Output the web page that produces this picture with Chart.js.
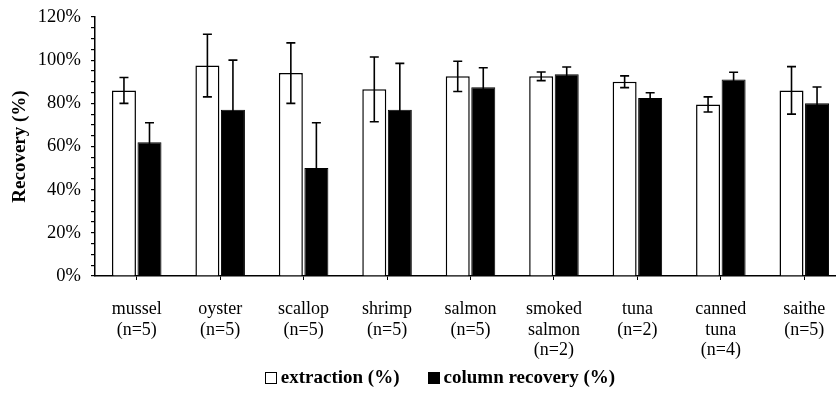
<!DOCTYPE html>
<html>
<head>
<meta charset="utf-8">
<script src="https://cdn.jsdelivr.net/npm/chart.js@4/dist/chart.umd.min.js"></script>
<style>
  html, body { margin: 0; padding: 0; background: #fff; overflow: hidden; }
  #wrap { width: 846px; height: 397px; }
</style>
</head>
<body>
<div id="wrap"><canvas id="c" width="846" height="397"></canvas></div>
<script>
// Sample types (multi-line axis labels)
const categories = [
  ['mussel', '(n=5)'],
  ['oyster', '(n=5)'],
  ['scallop', '(n=5)'],
  ['shrimp', '(n=5)'],
  ['salmon', '(n=5)'],
  ['smoked', 'salmon', '(n=2)'],
  ['tuna', '(n=2)'],
  ['canned', 'tuna', '(n=4)'],
  ['saithe', '(n=5)']
];

// Mean recovery (%) and standard deviation for each step
const extraction    = [86, 97.5, 94, 86.5, 92.5, 92.5, 90, 79.5, 86];
const extractionSd  = [6, 14.5, 14, 15, 7, 2, 2.7, 3.5, 11];
const column        = [62, 77, 50, 77, 87.5, 93.5, 82.5, 91, 80];
const columnSd      = [9, 23, 21, 21.5, 9, 3.3, 2.4, 3.4, 7.6];

const yMin = 0, yMax = 120, yStep = 5, yLabelEvery = 20;

const serif = 'Liberation Serif, "Times New Roman", serif';

// Vertical whiskers with caps: mean ± SD
const errorBars = {
  id: 'errorBars',
  afterDatasetsDraw(chart, args, opts) {
    const ctx = chart.ctx;
    const y = chart.scales.y;
    chart.data.datasets.forEach((ds, i) => {
      const meta = chart.getDatasetMeta(i);
      if (meta.hidden) return;
      meta.data.forEach((bar, j) => {
        const v = ds.data[j], e = ds.sd[j];
        const top = y.getPixelForValue(v + e);
        const bot = y.getPixelForValue(v - e);
        const half = opts.capHalfWidth;
        ctx.save();
        ctx.strokeStyle = '#000';
        ctx.lineWidth = opts.lineWidth;
        ctx.beginPath();
        ctx.moveTo(bar.x, top); ctx.lineTo(bar.x, bot);
        ctx.moveTo(bar.x - half, top); ctx.lineTo(bar.x + half, top);
        ctx.moveTo(bar.x - half, bot); ctx.lineTo(bar.x + half, bot);
        ctx.stroke();
        ctx.restore();
      });
    });
  }
};

// Compact legend row: square swatch hugging its bold label
const swatchLegend = {
  id: 'swatchLegend',
  afterDraw(chart, args, opts) {
    const ctx = chart.ctx;
    ctx.save();
    ctx.font = `bold ${opts.size}px ${serif}`;
    ctx.textBaseline = 'middle';
    ctx.textAlign = 'left';
    const items = chart.data.datasets.map(ds => ({
      text: ds.label,
      fill: ds.backgroundColor,
      stroke: ds.borderColor,
      w: ctx.measureText(ds.label).width
    }));
    const total = items.reduce((s, it) => s + opts.box + opts.gap + it.w, 0)
                + opts.spacing * (items.length - 1);
    let x = opts.centerX - total / 2;
    const y = opts.y;
    items.forEach(it => {
      const bx = Math.round(x) + 0.5, by = Math.round(y - opts.box / 2 - 1) + 0.5;
      ctx.fillStyle = it.fill;
      ctx.fillRect(bx, by, opts.box, opts.box);
      ctx.strokeStyle = it.stroke;
      ctx.lineWidth = 1;
      ctx.strokeRect(bx, by, opts.box, opts.box);
      ctx.fillStyle = '#000';
      ctx.fillText(it.text, x + opts.box + opts.gap, y);
      x += opts.box + opts.gap + it.w + opts.spacing;
    });
    ctx.restore();
  }
};

new Chart(document.getElementById('c'), {
  type: 'bar',
  data: {
    labels: categories,
    datasets: [
      {
        label: 'extraction (%)',
        data: extraction,
        sd: extractionSd,
        backgroundColor: '#ffffff',
        borderColor: '#000000',
        borderWidth: 1.5,
        borderSkipped: 'bottom'
      },
      {
        label: 'column recovery (%)',
        data: column,
        sd: columnSd,
        backgroundColor: '#000000',
        borderColor: '#000000',
        borderWidth: 1,
        borderSkipped: 'bottom'
      }
    ]
  },
  options: {
    responsive: false,
    animation: false,
    devicePixelRatio: 1,
    layout: { padding: { top: 17, left: 0, right: 0, bottom: 35 } },
    datasets: {
      bar: { categoryPercentage: 0.612, barPercentage: 0.94 }
    },
    scales: {
      x: {
        afterFit(scale) {
          scale.height = 86;
          scale.paddingLeft = 0;
          scale.paddingRight = 0;
        },
        grid: {
          offset: false,
          drawOnChartArea: false,
          drawTicks: true,
          tickLength: 4,
          color: '#000',
          lineWidth: 1
        },
        border: { display: true, color: '#000', width: 1.5 },
        ticks: {
          autoSkip: false,
          maxRotation: 0,
          minRotation: 0,
          padding: 19,
          color: '#000',
          font: { family: serif, size: 18, lineHeight: 1.15 }
        }
      },
      y: {
        min: yMin,
        max: yMax,
        afterFit(scale) {
          scale.width = 95;
          scale.paddingTop = 0;
          scale.paddingBottom = 0;
        },
        grid: {
          drawOnChartArea: false,
          drawTicks: true,
          tickLength: 4,
          color: '#000',
          lineWidth: 1.2
        },
        border: { display: true, color: '#000', width: 1.5 },
        ticks: {
          stepSize: yStep,
          autoSkip: false,
          padding: 10,
          color: '#000',
          font: { family: serif, size: 18.5 },
          callback: v => (v % yLabelEvery === 0 ? v + '%' : '')
        },
        title: {
          display: true,
          text: 'Recovery (%)',
          color: '#000',
          padding: { top: 9, bottom: 0 },
          font: { family: serif, size: 19, weight: 'bold' }
        }
      }
    },
    plugins: {
      legend: { display: false },
      tooltip: { enabled: false },
      errorBars: { lineWidth: 1.6, capHalfWidth: 4.5 },
      swatchLegend: { size: 19, box: 11, gap: 5, spacing: 28, centerX: 440, y: 378 }
    }
  },
  plugins: [errorBars, swatchLegend]
});
</script>
</body>
</html>
